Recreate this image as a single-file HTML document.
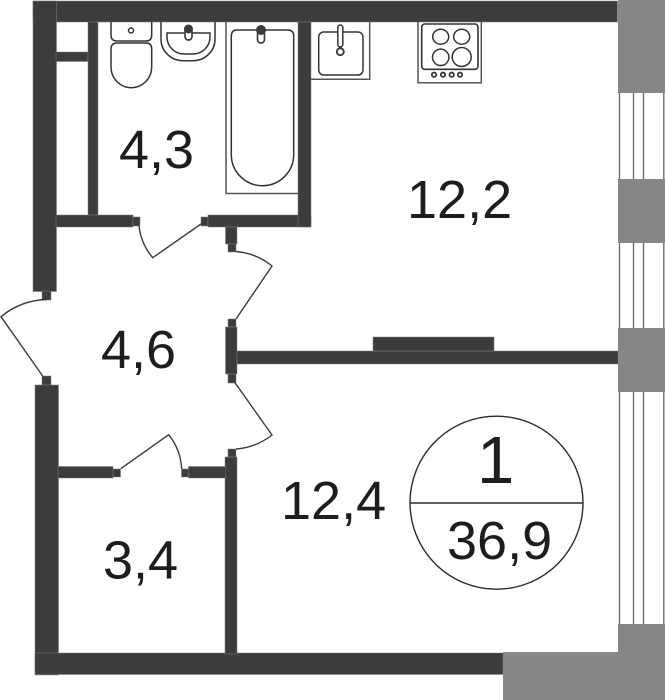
<!DOCTYPE html>
<html><head><meta charset="utf-8"><title>Floor plan</title>
<style>html,body{margin:0;padding:0;background:#fff}svg{display:block}text{font-family:"Liberation Sans",Arial,sans-serif;fill:#1d1d1b;font-size:54px}</style>
</head><body>
<svg width="665" height="700" viewBox="0 0 665 700" xmlns="http://www.w3.org/2000/svg">
<rect width="665" height="700" fill="#fff"/>
<!-- gray outer walls -->
<g fill="#878787">
<rect x="618" y="0" width="47" height="93"/>
<rect x="618" y="179" width="47" height="64"/>
<rect x="618" y="328" width="47" height="64"/>
<rect x="618" y="624" width="47" height="76"/>
<rect x="503" y="652" width="162" height="48"/>
</g>
<!-- window lines -->
<g stroke="#666" stroke-width="1.3" fill="none">
<path d="M619.5 93V179M633.5 93V179M643.5 93V179M663.8 93V179"/>
<path d="M619.5 243V328M633.5 243V328M643.5 243V328M663.8 243V328"/>
<path d="M619.5 392V624M633.5 392V624M643.5 392V624M663.8 392V624"/>
</g>
<!-- dark walls -->
<g fill="#3c3c3c" stroke="#7a7a7a" stroke-width=".5">
<rect x="33" y="1" width="584.5" height="21"/>
<rect x="33" y="1" width="23.5" height="290.5"/>
<rect x="42" y="291" width="9" height="9"/>
<rect x="42" y="376" width="9" height="9"/>
<rect x="35" y="385" width="23.5" height="290"/>
<rect x="35" y="653" width="468" height="21.5"/>
<rect x="56" y="52" width="32" height="9.5"/>
<rect x="88" y="22" width="10" height="193"/>
<rect x="56" y="215" width="77" height="12"/>
<rect x="133" y="217" width="7" height="9"/>
<rect x="201" y="217" width="7" height="9"/>
<rect x="208" y="215" width="103" height="12"/>
<rect x="298" y="22" width="13" height="205"/>
<rect x="225.500" y="227" width="11.500" height="17"/>
<rect x="228" y="244" width="8" height="8"/>
<rect x="228" y="319" width="8" height="8"/>
<rect x="225.500" y="327" width="11.500" height="47"/>
<rect x="228" y="374" width="8" height="9"/>
<rect x="237" y="351" width="381" height="13"/>
<rect x="373" y="337" width="121" height="14"/>
<rect x="228" y="449" width="8" height="8"/>
<rect x="225" y="457" width="12" height="197"/>
<rect x="58" y="466.500" width="55" height="11.500"/>
<rect x="113" y="469" width="7.500" height="8"/>
<rect x="181.500" y="469" width="7" height="8"/>
<rect x="188.500" y="466.500" width="37" height="11.500"/>
</g>
<!-- doors -->
<g fill="none" stroke="#3c3c3c" stroke-width="1.4">
<path d="M139 226A60 60 0 0 0 152.700 257.700L201 224"/>
<path d="M47 299.500A75 75 0 0 0 1 316.700L42.700 376"/>
<path d="M236 251.500A66 66 0 0 1 272 266L236 319"/>
<path d="M236 449A66 66 0 0 0 272 435L235 382.700"/>
<path d="M120.700 468.700L168.700 434.700A60 60 0 0 1 181.700 469"/>
</g>
<!-- fixtures -->
<g fill="none" stroke="#333" stroke-width="1.500">
<path d="M111 22V35Q111 41 117 41H146Q151.700 41 151.700 35V22"/>
<circle cx="131" cy="30.500" r="2.500"/>
<path d="M111 49Q111 43 117 43H146Q151.700 43 151.700 49V67A20.350 20.700 0 0 1 111 67Z"/>
<path d="M161 22V39A22 21.500 0 0 0 183 60.700H193A22 21.500 0 0 0 215 39V22"/>
<path d="M167 33H210V37A17 17 0 0 1 193 54H184A17 17 0 0 1 167 37Z"/>
<path d="M226 22V193.500H298" stroke="#555"/>
<path d="M231.300 36Q231.300 30 237 30H288Q293.700 30 293.700 36V154.500A31.200 31.200 0 0 1 262.500 185.700A31.200 31.200 0 0 1 231.300 154.500Z"/>
<path d="M311 79.300H369.700V22" stroke="#555"/>
<rect x="318.700" y="32" width="44.300" height="43" rx="5"/>
<rect x="337.800" y="25" width="5" height="22" rx="2.500" fill="#fff"/>
<circle cx="340.300" cy="51.700" r="3.500" stroke-width="1.800"/>
<path d="M418 22V82.700H481.300V22" stroke="#555"/>
<rect x="421.700" y="24" width="56.300" height="45.300" rx="3" stroke-width="1.600"/>
<ellipse cx="440.700" cy="36.700" rx="8" ry="7.500"/>
<ellipse cx="461.700" cy="36.700" rx="8" ry="7.500"/>
<circle cx="440.700" cy="57.300" r="8.200"/>
<circle cx="461.700" cy="57" r="9.500"/>
<circle cx="434" cy="74.700" r="2.200" stroke-width="1.700"/>
<circle cx="443" cy="74.700" r="2.200" stroke-width="1.700"/>
<circle cx="451.700" cy="74.700" r="2.200" stroke-width="1.700"/>
<circle cx="460" cy="74.700" r="2.200" stroke-width="1.700"/>
</g>
<!-- taps -->
<rect x="185" y="28" width="7" height="12" rx="3.500" fill="#fff" stroke="#3c3c3c" stroke-width="1.700"/>
<circle cx="188.500" cy="29" r="4.500" fill="#3c3c3c"/>
<rect x="257.500" y="31" width="7" height="12" rx="3.500" fill="#fff" stroke="#3c3c3c" stroke-width="1.700"/>
<circle cx="261" cy="30" r="5" fill="#3c3c3c"/>
<!-- badge -->
<circle cx="496.500" cy="502.700" r="86.500" fill="none" stroke="#2b2b2b" stroke-width="1.400"/>
<path d="M410 503H583" stroke="#2b2b2b" stroke-width="1.400"/>
<!-- labels -->
<text x="119" y="168">4,3</text>
<text x="407" y="218">12,2</text>
<text x="101" y="368">4,6</text>
<text x="281" y="519">12,4</text>
<text x="103" y="578.500">3,4</text>
<text x="477" y="483" style="font-size:67px">1</text>
<text x="447" y="559">36,9</text>
</svg>
</body></html>
